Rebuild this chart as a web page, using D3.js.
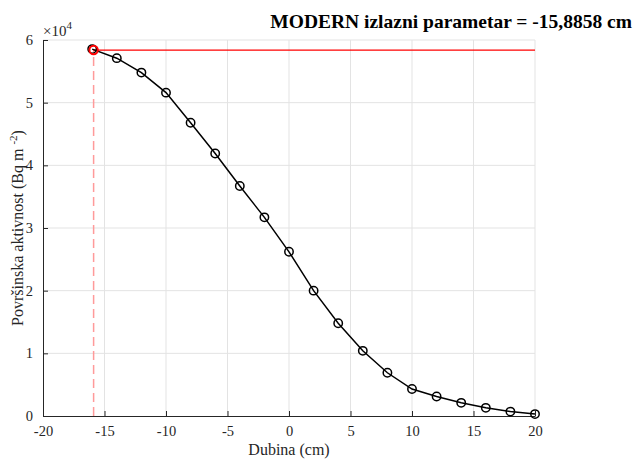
<!DOCTYPE html>
<html>
<head>
<meta charset="utf-8">
<script src="https://cdn.jsdelivr.net/npm/d3@7"></script>
<style>
  html, body { margin: 0; padding: 0; background: #fff; }
  svg { display: block; font-family: "Liberation Serif", "Times New Roman", serif; }
</style>
</head>
<body>
<svg id="chart" width="634" height="459"></svg>
<script>
// Depth (cm) and measured surface activity (Bq m^-2)
const depth = [-16, -14, -12, -10, -8, -6, -4, -2, 0, 2, 4, 6, 8, 10, 12, 14, 16, 18, 20];
const activity = [58550, 57100, 54800, 51600, 46800, 41900, 36700, 31700, 26200, 20000,
                  14800, 10400, 6900, 4300, 3100, 2100, 1300, 700, 300];

// MODERN output parameter and the activity it corresponds to
const modernDepth = -15.8858;
const modernActivity = 58400;

const xTicks = [-20, -15, -10, -5, 0, 5, 10, 15, 20];
const yTicks = [0, 10000, 20000, 30000, 40000, 50000, 60000];
const yTickLabels = ["0", "1", "2", "3", "4", "5", "6"];

const titleText = "MODERN izlazni parametar = -15,8858 cm";
const xLabel = "Dubina (cm)";

const svg = d3.select("#chart");
const plotL = 43, plotR = 535, plotT = 40, plotB = 416;

const x = d3.scaleLinear().domain([-20, 20]).range([plotL, plotR]);
const y = d3.scaleLinear().domain([0, 60000]).range([plotB, plotT]);

const axisColor = "#262626";
const gridColor = "#e3e3e3";

// grid
const grid = svg.append("g");
grid.selectAll("line.gx").data(xTicks.slice(1)).join("line")
  .attr("x1", d => x(d)).attr("x2", d => x(d))
  .attr("y1", plotT).attr("y2", plotB)
  .attr("stroke", gridColor).attr("stroke-width", 1);
grid.selectAll("line.gy").data(yTicks.slice(1)).join("line")
  .attr("x1", plotL).attr("x2", plotR)
  .attr("y1", d => y(d)).attr("y2", d => y(d))
  .attr("stroke", gridColor).attr("stroke-width", 1);

// axes (ticks pointing inward), plain hyphen for negatives
const xAxis = d3.axisBottom(x).tickValues(xTicks).tickSizeInner(-5).tickSizeOuter(0).tickPadding(10)
  .tickFormat(d => String(d));
const gx = svg.append("g").attr("transform", `translate(0,${plotB})`).call(xAxis);
const yAxis = d3.axisLeft(y).tickValues(yTicks).tickSizeInner(-5).tickSizeOuter(0).tickPadding(10)
  .tickFormat((d, i) => yTickLabels[i]);
const gy = svg.append("g").attr("transform", `translate(${plotL},0)`).call(yAxis);

[gx, gy].forEach(g => {
  g.select(".domain").attr("stroke", axisColor).attr("stroke-width", 1);
  g.selectAll(".tick line").attr("stroke", axisColor);
  g.selectAll(".tick text").attr("fill", axisColor)
    .style("font-family", "'Liberation Serif', serif").style("font-size", "14.5px");
});
gx.selectAll(".tick text").attr("dy", "0.71em");

// exponent label
const expo = svg.append("text").attr("x", plotL).attr("y", 36)
  .attr("fill", axisColor).style("font-size", "15px");
expo.append("tspan").text("\u00d710");
expo.append("tspan").attr("dy", -7).style("font-size", "11px").text("4");

// red reference lines for the MODERN parameter
svg.append("line")
  .attr("x1", x(modernDepth)).attr("x2", x(modernDepth))
  .attr("y1", y(0)).attr("y2", y(modernActivity))
  .attr("stroke", "#ff9a9a").attr("stroke-width", 1.5)
  .attr("stroke-dasharray", "9,5");
svg.append("line")
  .attr("x1", x(modernDepth)).attr("x2", x(20))
  .attr("y1", y(modernActivity)).attr("y2", y(modernActivity))
  .attr("stroke", "#ff0000").attr("stroke-width", 1.2);

// data line and markers
const line = d3.line().x((d, i) => x(depth[i])).y(d => y(d));
svg.append("path").datum(activity)
  .attr("d", line).attr("fill", "none")
  .attr("stroke", "#000").attr("stroke-width", 1.5);
svg.selectAll("circle.pt").data(activity).join("circle")
  .attr("class", "pt")
  .attr("cx", (d, i) => x(depth[i])).attr("cy", d => y(d))
  .attr("r", 4.2).attr("fill", "none")
  .attr("stroke", "#000").attr("stroke-width", 1.5);

// MODERN point
svg.append("circle")
  .attr("cx", x(modernDepth)).attr("cy", y(modernActivity))
  .attr("r", 4.2).attr("fill", "none")
  .attr("stroke", "#ff0000").attr("stroke-width", 2);

// labels
svg.append("text").attr("x", 632).attr("y", 28).attr("text-anchor", "end")
  .style("font-size", "19.5px").style("font-weight", "bold").attr("fill", "#000")
  .text(titleText);

svg.append("text").attr("x", (plotL + plotR) / 2).attr("y", 455).attr("text-anchor", "middle")
  .style("font-size", "16px").attr("fill", axisColor).text(xLabel);

const yl = svg.append("text")
  .attr("transform", `translate(23,${(plotT + plotB) / 2}) rotate(-90)`)
  .attr("text-anchor", "middle").style("font-size", "16px").attr("fill", axisColor);
yl.append("tspan").text("Površinska aktivnost (Bq m ");
yl.append("tspan").attr("dy", -6).style("font-size", "11px").text("-2");
yl.append("tspan").attr("dy", 6).text(")");
</script>
</body>
</html>
